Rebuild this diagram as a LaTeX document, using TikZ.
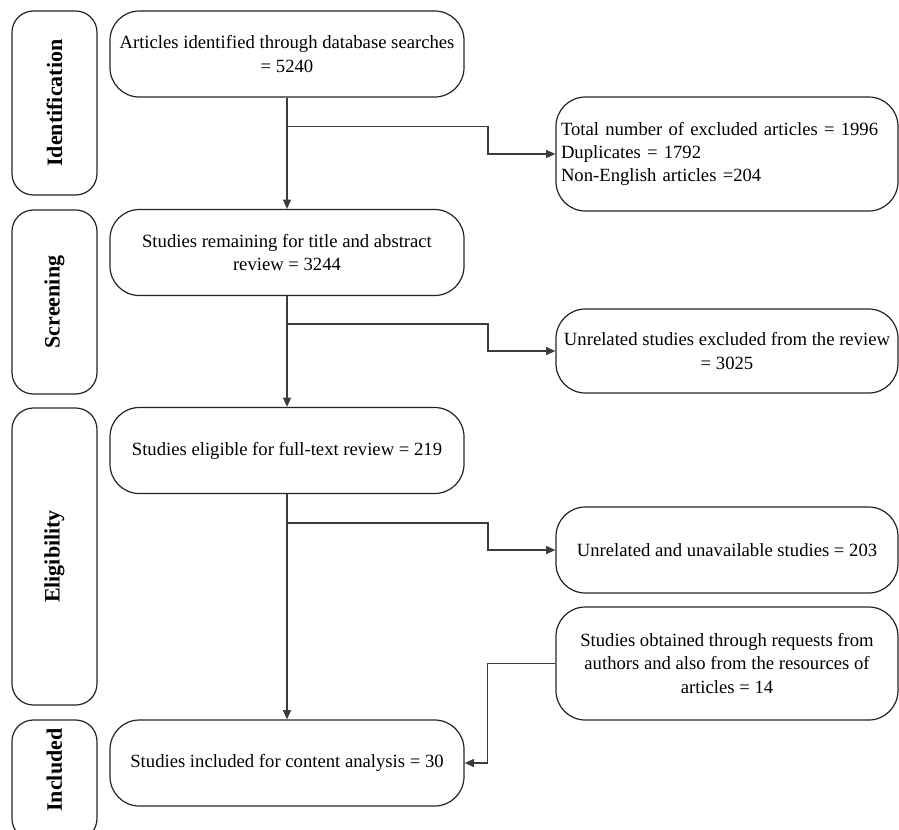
\documentclass[tikz,border=0pt]{standalone}
\usepackage{fontspec}
\setmainfont{Liberation Serif}
\definecolor{flowline}{RGB}{60,60,60}
\definecolor{flowborder}{RGB}{35,35,35}
\usetikzlibrary{calc}
\usetikzlibrary{positioning}
\usetikzlibrary{arrows.meta}

\begin{document}
\begin{tikzpicture}[x=0.75pt,y=-0.75pt,
  every node/.style={draw=flowborder, line width=0.9pt, align=center, inner sep=2pt,
    font=\fontsize{14}{17.5}\selectfont},
  phase/.style={rotate=90, rounded corners=16pt, minimum height=63.75pt,
    font=\bfseries\fontsize{16.5}{18}\selectfont},
  stage/.style={rounded corners=22pt, minimum width=265.5pt, minimum height=64.5pt},
  excl/.style={rounded corners=22pt, minimum width=256.5pt},
  flow/.style={draw=flowline, line width=1pt, -{Triangle[length=7pt,width=6pt]}}]
  \useasboundingbox (0,0) rectangle (899,829);

  % phases on the left
  \node [phase, minimum width=138pt] (pid) at (54.5,103) {Identification};
  \node [phase, minimum width=138pt] (psc) at (54.5,302) {Screening};
  \node [phase, minimum width=222.75pt] (pel) at (54.5,556.5) {Eligibility};
  \node [phase, minimum width=90pt] (pin) at (54.5,780) {\hspace*{15pt}Included};

  % main column
  \node [stage] (ident) at (287,54) {Articles identified through database searches\\= 5240};
  \node [stage] (screen) at (287,252.5) {Studies remaining for title and abstract\\review = 3244};
  \node [stage] (elig) at (287,450.5) {Studies eligible for full-text review = 219};
  \node [stage] (incl) at (287,763) {Studies included for content analysis = 30};

  % excluded / added on the right
  \node [excl, minimum height=85.5pt, text width=249pt, align=left] (ex1) at (727,154)
    {Total number of excluded articles = 1996\\Duplicates = 1792\\Non-English articles =204};
  \node [excl, minimum height=63pt] (ex2) at (727,351) {Unrelated studies excluded from the review\\= 3025};
  \node [excl, minimum height=64.5pt] (ex3) at (727,550) {Unrelated and unavailable studies = 203};
  \node [excl, minimum height=84.75pt] (add) at (727,663.5)
    {Studies obtained through requests from\\authors and also from the resources of\\articles = 14};

  \draw [flow] (ident) -- (screen);
  \draw [flow] (screen) -- (elig);
  \draw [flow] (elig) -- (incl);

  \coordinate (b1) at ($(ident.south)+(0,29)$);
  \coordinate (b2) at ($(screen.south)+(0,28)$);
  \coordinate (b3) at ($(elig.south)+(0,29)$);
  \draw [flow] (b1) -- ++(201,0) |- (ex1.west);
  \draw [flow] (b2) -- ++(201,0) |- (ex2.west);
  \draw [flow] (b3) -- ++(201,0) |- (ex3.west);
  \draw [flow] (add.west) -- ++(-68,0) |- (incl.east);
\end{tikzpicture}
\end{document}
